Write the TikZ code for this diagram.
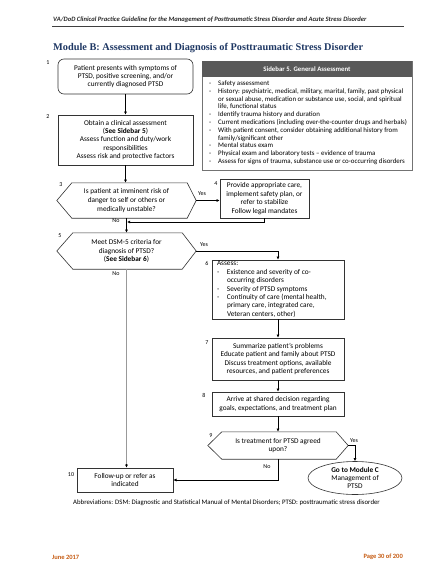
\documentclass[tikz,border=0pt]{standalone}
\usepackage{fontspec}
\setmainfont{Carlito}
\newfontfamily\titlefont{Liberation Serif}
\usetikzlibrary{arrows.meta,shapes.geometric}
\definecolor{titleblue}{RGB}{31,56,100}
\definecolor{footorange}{RGB}{197,90,17}
\definecolor{sidegray}{RGB}{89,89,89}
\def\hexframe(#1)(#2:#3){\draw[hexline] (#1.west) -- ([xshift=#2]#1.north west) -- ([xshift=-#3]#1.north east) -- (#1.east) -- ([xshift=-#3]#1.south east) -- ([xshift=#2]#1.south west) -- cycle;}
\newcommand{\sbitem}[1]{\makebox[9pt][l]{-}#1}
\newcommand{\sbcont}[1]{\hspace*{9pt}#1}
\tikzset{
  box/.style={draw=black!80, line width=0.6pt, inner sep=0pt, align=center, font=\fontsize{7.3}{8.4}\selectfont},
  hextext/.style={inner sep=0pt, align=center, font=\fontsize{7.3}{8.6}\selectfont},
  hexline/.style={draw=black!80, line width=0.6pt},
  arr/.style={-{Latex[length=3.2pt,width=3pt]}, line width=0.6pt},
  grayline/.style={draw=black!40, line width=1.6pt},
  numlabel/.style={font=\fontsize{6}{7}\selectfont, inner sep=0pt},
  yesno/.style={font=\fontsize{6}{7}\selectfont, inner sep=0pt}
}
\begin{document}
\begin{tikzpicture}[x=1pt,y=-1pt]
			%%%%% START %%%%%
			\useasboundingbox (0,0) rectangle (437,570);
			
			% page header
			\node[anchor=west, inner sep=0pt, text=black!85, font=\fontsize{6.6}{7}\selectfont\bfseries\itshape] (header) at (53,20) {VA/DoD Clinical Practice Guideline for the Management of Posttraumatic Stress Disorder and Acute Stress Disorder};
			\draw[line width=1pt, black!75] (52,26) -- (404,26);
			\node[anchor=west, inner sep=0pt, text=titleblue, font=\fontsize{10.3}{11}\selectfont\titlefont\bfseries] (title) at (53,48) {Module B: Assessment and Diagnosis of Posttraumatic Stress Disorder};
			
			% boxes 1 and 2
			\node[box, rounded corners=6pt, minimum width=135pt, minimum height=35pt] (n1) at (125.5,76.5) {Patient presents with symptoms of\\PTSD, positive screening, and/or\\currently diagnosed PTSD};
			\node[box, minimum width=135pt, minimum height=50pt] (n2) at (125.5,140) {Obtain a clinical assessment\\(\textbf{See Sidebar 5})\\Assess function and duty/work\\responsibilities\\Assess risk and protective factors};
			
			% sidebar 5
			\draw[draw=black!55, line width=0.6pt] (202,61) rectangle (412,170);
			\node[fill=sidegray, text=white, minimum width=210pt, minimum height=16pt, inner sep=0pt, font=\fontsize{6.8}{7}\selectfont\bfseries] (sbhead) at (307,69) {Sidebar 5. General Assessment};
			\node[anchor=north west, inner sep=0pt, align=left, font=\fontsize{6.9}{7.8}\selectfont] (sbbody) at (209,80.5) {%
			\sbitem{Safety assessment}\\
			\sbitem{History: psychiatric, medical, military, marital, family, past physical}\\
			\sbcont{or sexual abuse, medication or substance use, social, and spiritual}\\
			\sbcont{life, functional status}\\
			\sbitem{Identify trauma history and duration}\\
			\sbitem{Current medications (including over-the-counter drugs and herbals)}\\
			\sbitem{With patient consent, consider obtaining additional history from}\\
			\sbcont{family/significant other}\\
			\sbitem{Mental status exam}\\
			\sbitem{Physical exam and laboratory tests -- evidence of trauma}\\
			\sbitem{Assess for signs of trauma, substance use or co-occurring disorders}};
			
			% decision 3 and box 4
			\node[hextext, minimum width=139pt, minimum height=35pt] (n3) at (126.5,200.5) {Is patient at imminent risk of\\danger to self or others or\\medically unstable?};
			\hexframe(n3)(15pt:9pt)
			\node[box, minimum width=89pt, minimum height=39pt] (n4) at (264.5,198.5) {Provide appropriate care,\\implement safety plan, or\\refer to stabilize\\Follow legal mandates};
			
			% decision 5
			\node[hextext, minimum width=139pt, minimum height=36pt] (n5) at (126.5,251) {Meet DSM-5 criteria for\\diagnosis of PTSD?\\(\textbf{See Sidebar 6})};
			\hexframe(n5)(16pt:14pt)
			
			% boxes 6, 7, 8
			\node[box, minimum width=132pt, minimum height=59pt] (n6) at (278,289.5) {\makebox[122pt][l]{%
			\begin{tabular}{@{}l@{}}Assess:\\
			\makebox[10pt][l]{-}Existence and severity of co-\\
			\hspace*{10pt}occurring disorders\\
			\makebox[10pt][l]{-}Severity of PTSD symptoms\\
			\makebox[10pt][l]{-}Continuity of care (mental health,\\
			\hspace*{10pt}primary care, integrated care,\\
			\hspace*{10pt}Veteran centers, other)\end{tabular}}};
			\node[box, minimum width=132pt, minimum height=42pt] (n7) at (278,359) {Summarize patient's problems\\Educate patient and family about PTSD\\Discuss treatment options, available\\resources, and patient preferences};
			\node[box, minimum width=132pt, minimum height=24pt] (n8) at (278,404) {Arrive at shared decision regarding\\goals, expectations, and treatment plan};
			
			% decision 9, module C, box 10
			\node[hextext, minimum width=140pt, minimum height=27pt] (n9) at (278,445.5) {Is treatment for PTSD agreed\\upon?};
			\hexframe(n9)(14pt:12pt)
			\node[box, ellipse, minimum width=94pt, minimum height=33pt] (nC) at (355,478) {\textbf{Go to Module C}\\Management of\\PTSD};
			\node[box, minimum width=96pt, minimum height=24pt] (n10) at (125,480) {Follow-up or refer as\\indicated};
			
			% numbers
			\node[numlabel] (l1) at (48,63) {1};
			\node[numlabel] (l2) at (48,117) {2};
			\node[numlabel] (l3) at (61,185) {3};
			\node[numlabel] (l4) at (216,184) {4};
			\node[numlabel] (l5) at (60,236) {5};
			\node[numlabel] (l6) at (207,263) {6};
			\node[numlabel] (l7) at (207,343) {7};
			\node[numlabel] (l8) at (204,395) {8};
			\node[numlabel] (l9) at (211,436) {9};
			\node[numlabel] (l10) at (71,475) {10};
			
			% connectors
			\coordinate (back3) at (127,222);
			\draw[arr] (n1) -- (n2);
			\draw[arr] (n2.south) -- (n2.south |- n3.north);
			\draw[arr] (n3.east) -- (n3.east -| n4.west);
			\draw[arr] (n4.south) |- (back3);
			\draw[arr] (n3.south) -- (n5.north);
			\draw[arr] (n5.east) -| (n6.north);
			\draw[grayline] (n5.south) -- ([yshift=3pt]n5.south |- n10.north);
			\draw[arr, draw=black] ([yshift=3.5pt]n5.south |- n10.north) -- (n5.south |- n10.north);
			\draw[arr] (n6) -- (n7);
			\draw[arr] (n7) -- (n8);
			\draw[arr] (n8) -- (n9);
			\draw[arr] (n9.east) -| (nC.north);
			\draw[arr] (n9.south) |- (n10.east);
			
			\node[yesno] (y3) at (202,194) {Yes};
			\node[yesno] (no3) at (116,221) {No};
			\node[yesno] (y5) at (204,245) {Yes};
			\node[yesno] (no5) at (116,274) {No};
			\node[yesno] (y9) at (354,441) {Yes};
			\node[yesno] (no9) at (267,467) {No};
			
			% footnote and footer
			\node[anchor=west, inner sep=0pt, font=\fontsize{6.8}{7}\selectfont] (abbr) at (73,503) {Abbreviations: DSM: Diagnostic and Statistical Manual of Mental Disorders; PTSD: posttraumatic stress disorder};
			\node[anchor=west, inner sep=0pt, text=footorange, font=\fontsize{6.5}{7}\selectfont\bfseries] (date) at (52,557) {June 2017};
			\node[anchor=east, inner sep=0pt, text=footorange, font=\fontsize{6.5}{7}\selectfont\bfseries] (page) at (403,557) {Page 30 of 200};
			%%%%% END %%%%%
\end{tikzpicture}
\end{document}
